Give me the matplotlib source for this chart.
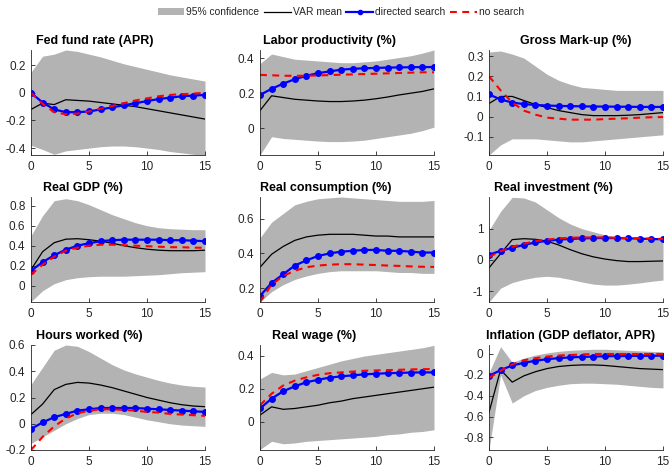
import numpy as np
import matplotlib
matplotlib.use("Agg")
import matplotlib.pyplot as plt
from matplotlib.patches import Patch
from matplotlib.lines import Line2D

plt.rcParams['font.family'] = ['Liberation Sans', 'DejaVu Sans']

horizon = list(range(16))

titles = ["Fed fund rate (APR)", "Labor productivity (%)", "Gross Mark-up (%)",
          "Real GDP (%)", "Real consumption (%)", "Real investment (%)",
          "Hours worked (%)", "Real wage (%)", "Inflation (GDP deflator, APR)"]

# 95% confidence band: upper / lower
fed_hi = [0.15, 0.265, 0.28, 0.31, 0.30, 0.28, 0.26, 0.235, 0.21, 0.19, 0.17, 0.15, 0.13, 0.115, 0.10, 0.085]
fed_lo = [-0.38, -0.41, -0.445, -0.42, -0.41, -0.40, -0.39, -0.385, -0.385, -0.39, -0.40, -0.41, -0.425, -0.435, -0.445, -0.45]
fed_var = [-0.12, -0.075, -0.085, -0.05, -0.055, -0.06, -0.07, -0.08, -0.09, -0.10, -0.115, -0.13, -0.145, -0.16, -0.175, -0.19]
fed_dir = [0.0, -0.07, -0.12, -0.14, -0.14, -0.135, -0.12, -0.105, -0.09, -0.075, -0.06, -0.045, -0.035, -0.025, -0.02, -0.015]
fed_nos = [0.0, -0.08, -0.14, -0.155, -0.15, -0.135, -0.115, -0.095, -0.075, -0.055, -0.04, -0.025, -0.015, -0.01, -0.005, 0.0]

lp_hi = [0.37, 0.425, 0.41, 0.395, 0.39, 0.385, 0.38, 0.375, 0.375, 0.38, 0.385, 0.395, 0.405, 0.415, 0.43, 0.448]
lp_lo = [-0.155, -0.05, -0.06, -0.065, -0.07, -0.075, -0.078, -0.078, -0.075, -0.07, -0.06, -0.05, -0.04, -0.03, -0.015, 0.005]
lp_var = [0.10, 0.185, 0.175, 0.165, 0.16, 0.155, 0.152, 0.152, 0.155, 0.16, 0.168, 0.178, 0.19, 0.20, 0.21, 0.225]
lp_dir = [0.19, 0.225, 0.255, 0.28, 0.30, 0.315, 0.325, 0.335, 0.34, 0.343, 0.345, 0.347, 0.348, 0.349, 0.35, 0.35]
lp_nos = [0.305, 0.303, 0.30, 0.30, 0.30, 0.302, 0.304, 0.306, 0.308, 0.31, 0.312, 0.314, 0.316, 0.318, 0.32, 0.32]

mu_hi = [0.32, 0.325, 0.31, 0.29, 0.25, 0.21, 0.18, 0.16, 0.145, 0.14, 0.135, 0.13, 0.13, 0.13, 0.13, 0.13]
mu_lo = [-0.19, -0.14, -0.11, -0.11, -0.11, -0.115, -0.12, -0.125, -0.125, -0.12, -0.115, -0.11, -0.105, -0.10, -0.095, -0.09]
mu_var = [0.065, 0.10, 0.10, 0.08, 0.06, 0.045, 0.03, 0.02, 0.01, 0.005, 0.005, 0.005, 0.007, 0.01, 0.015, 0.02]
mu_dir = [0.11, 0.085, 0.07, 0.062, 0.058, 0.055, 0.053, 0.052, 0.051, 0.05, 0.05, 0.049, 0.049, 0.048, 0.048, 0.048]
mu_nos = [0.20, 0.13, 0.07, 0.03, 0.01, -0.005, -0.01, -0.015, -0.015, -0.015, -0.012, -0.01, -0.008, -0.005, -0.003, -0.002]

gdp_hi = [0.50, 0.70, 0.85, 0.87, 0.85, 0.81, 0.76, 0.71, 0.67, 0.63, 0.60, 0.58, 0.57, 0.565, 0.56, 0.56]
gdp_lo = [-0.16, -0.05, 0.02, 0.06, 0.08, 0.09, 0.095, 0.095, 0.095, 0.10, 0.105, 0.11, 0.12, 0.13, 0.135, 0.14]
gdp_var = [0.16, 0.34, 0.43, 0.465, 0.47, 0.46, 0.445, 0.425, 0.40, 0.38, 0.365, 0.355, 0.35, 0.35, 0.35, 0.355]
gdp_dir = [0.15, 0.235, 0.305, 0.36, 0.40, 0.425, 0.445, 0.455, 0.46, 0.46, 0.46, 0.46, 0.455, 0.455, 0.45, 0.445]
gdp_nos = [0.11, 0.21, 0.29, 0.35, 0.38, 0.40, 0.41, 0.41, 0.405, 0.40, 0.395, 0.39, 0.385, 0.385, 0.38, 0.38]

con_hi = [0.49, 0.58, 0.63, 0.68, 0.70, 0.715, 0.72, 0.725, 0.72, 0.715, 0.71, 0.705, 0.70, 0.70, 0.70, 0.705]
con_lo = [0.12, 0.18, 0.22, 0.25, 0.27, 0.285, 0.295, 0.30, 0.30, 0.30, 0.30, 0.295, 0.29, 0.29, 0.285, 0.285]
con_var = [0.32, 0.395, 0.44, 0.475, 0.495, 0.505, 0.51, 0.51, 0.51, 0.505, 0.50, 0.50, 0.495, 0.495, 0.495, 0.495]
con_dir = [0.155, 0.23, 0.28, 0.33, 0.36, 0.385, 0.40, 0.41, 0.415, 0.42, 0.42, 0.415, 0.415, 0.41, 0.405, 0.405]
con_nos = [0.12, 0.22, 0.27, 0.30, 0.32, 0.33, 0.335, 0.338, 0.338, 0.335, 0.333, 0.33, 0.328, 0.325, 0.323, 0.322]

inv_hi = [0.95, 1.55, 2.0, 1.98, 1.85, 1.60, 1.35, 1.15, 1.0, 0.9, 0.8, 0.73, 0.68, 0.65, 0.65, 0.65]
inv_lo = [-1.34, -0.9, -0.72, -0.62, -0.55, -0.52, -0.55, -0.62, -0.70, -0.77, -0.80, -0.80, -0.77, -0.73, -0.68, -0.64]
inv_var = [-0.25, 0.20, 0.65, 0.68, 0.66, 0.60, 0.48, 0.33, 0.20, 0.10, 0.03, -0.02, -0.05, -0.05, -0.04, -0.03]
inv_dir = [0.17, 0.29, 0.39, 0.48, 0.56, 0.61, 0.65, 0.67, 0.69, 0.70, 0.70, 0.70, 0.69, 0.68, 0.67, 0.66]
inv_nos = [0.10, 0.28, 0.42, 0.52, 0.60, 0.65, 0.69, 0.71, 0.72, 0.72, 0.72, 0.71, 0.70, 0.69, 0.68, 0.67]

hrs_hi = [0.30, 0.43, 0.56, 0.60, 0.59, 0.55, 0.50, 0.45, 0.41, 0.38, 0.355, 0.33, 0.31, 0.295, 0.285, 0.28]
hrs_lo = [-0.15, -0.10, -0.05, 0.0, 0.04, 0.07, 0.08, 0.08, 0.07, 0.05, 0.03, 0.015, 0.0, -0.01, -0.015, -0.02]
hrs_var = [0.07, 0.15, 0.26, 0.30, 0.315, 0.31, 0.295, 0.275, 0.25, 0.225, 0.20, 0.18, 0.16, 0.145, 0.135, 0.13]
hrs_dir = [-0.04, 0.01, 0.05, 0.075, 0.10, 0.11, 0.12, 0.12, 0.12, 0.12, 0.115, 0.11, 0.105, 0.10, 0.095, 0.09]
hrs_nos = [-0.20, -0.10, -0.02, 0.04, 0.08, 0.10, 0.11, 0.11, 0.105, 0.10, 0.09, 0.085, 0.075, 0.07, 0.065, 0.06]

wag_hi = [0.26, 0.30, 0.285, 0.29, 0.31, 0.33, 0.35, 0.37, 0.385, 0.40, 0.41, 0.42, 0.43, 0.44, 0.45, 0.465]
wag_lo = [-0.17, -0.12, -0.135, -0.13, -0.12, -0.115, -0.11, -0.105, -0.10, -0.095, -0.09, -0.08, -0.075, -0.065, -0.06, -0.05]
wag_var = [0.04, 0.09, 0.075, 0.08, 0.09, 0.10, 0.115, 0.125, 0.14, 0.15, 0.16, 0.17, 0.18, 0.19, 0.20, 0.21]
wag_dir = [0.08, 0.14, 0.185, 0.215, 0.24, 0.255, 0.268, 0.276, 0.282, 0.288, 0.292, 0.295, 0.297, 0.299, 0.30, 0.30]
wag_nos = [0.10, 0.17, 0.22, 0.25, 0.27, 0.285, 0.295, 0.30, 0.305, 0.31, 0.312, 0.314, 0.316, 0.318, 0.32, 0.32]

inf_hi = [-0.18, 0.07, -0.08, -0.04, -0.01, 0.01, 0.025, 0.035, 0.04, 0.045, 0.045, 0.04, 0.035, 0.03, 0.025, 0.02]
inf_lo = [-0.92, -0.20, -0.47, -0.40, -0.35, -0.32, -0.30, -0.285, -0.28, -0.28, -0.285, -0.29, -0.30, -0.31, -0.32, -0.325]
inf_var = [-0.56, -0.15, -0.27, -0.21, -0.17, -0.14, -0.12, -0.11, -0.105, -0.105, -0.11, -0.12, -0.13, -0.14, -0.145, -0.15]
inf_dir = [-0.21, -0.155, -0.11, -0.085, -0.065, -0.05, -0.04, -0.033, -0.028, -0.025, -0.022, -0.02, -0.019, -0.018, -0.017, -0.016]
inf_nos = [-0.23, -0.16, -0.10, -0.06, -0.04, -0.025, -0.015, -0.01, -0.005, 0.0, 0.0, 0.0, 0.0, 0.0, 0.0, 0.0]

panels = [
    (fed_hi, fed_lo, fed_var, fed_dir, fed_nos),
    (lp_hi, lp_lo, lp_var, lp_dir, lp_nos),
    (mu_hi, mu_lo, mu_var, mu_dir, mu_nos),
    (gdp_hi, gdp_lo, gdp_var, gdp_dir, gdp_nos),
    (con_hi, con_lo, con_var, con_dir, con_nos),
    (inv_hi, inv_lo, inv_var, inv_dir, inv_nos),
    (hrs_hi, hrs_lo, hrs_var, hrs_dir, hrs_nos),
    (wag_hi, wag_lo, wag_var, wag_dir, wag_nos),
    (inf_hi, inf_lo, inf_var, inf_dir, inf_nos),
]

yticks = [
    [-0.4, -0.2, 0, 0.2], [0, 0.2, 0.4], [-0.1, 0, 0.1, 0.2, 0.3],
    [0, 0.2, 0.4, 0.6, 0.8], [0.2, 0.4, 0.6], [-1, 0, 1],
    [-0.2, 0, 0.2, 0.4, 0.6], [0, 0.2, 0.4], [-0.8, -0.6, -0.4, -0.2, 0],
]
ylims = [(-0.45, 0.31), (-0.155, 0.448), (-0.19, 0.33),
         (-0.163, 0.887), (0.12, 0.725), (-1.34, 2.01),
         (-0.2, 0.6), (-0.173, 0.467), (-0.92, 0.086)]
title_x = [0.368, 0.40, 0.5, 0.30, 0.378, 0.37, 0.337, 0.313, 0.47]

W, H = 672, 467
fig = plt.figure(figsize=(W / 100, H / 100), dpi=100)

col_left = [31, 260, 489]
ax_w = 174
row_top = [50, 197, 345]
ax_h = 105

band_c = '#b3b3b3'
axc = '#262626'
dash = (0, (3.3, 2.6))

for i, (hi, lo, var, dr, ns) in enumerate(panels):
    r, c = divmod(i, 3)
    ax = fig.add_axes([col_left[c] / W, 1 - (row_top[r] + ax_h) / H, ax_w / W, ax_h / H])
    ax.fill_between(horizon, lo, hi, color=band_c, linewidth=0)
    ax.plot(horizon, var, color='black', lw=0.9)
    ax.plot(horizon, dr, color='#0000ff', lw=1.6, marker='o', ms=4,
            markerfacecolor='#0000ff', markeredgecolor='#0000ff')
    ax.plot(horizon, ns, color='#ff0000', lw=1.5, ls=dash)
    ax.set_xlim(0, 15)
    ax.set_ylim(*ylims[i])
    ax.set_xticks([0, 5, 10, 15])
    ax.set_yticks(yticks[i])
    ax.set_yticklabels([('%g' % t) for t in yticks[i]])
    for s in ['top', 'right']:
        ax.spines[s].set_visible(False)
    for s in ['left', 'bottom']:
        ax.spines[s].set_color(axc)
        ax.spines[s].set_linewidth(0.6)
    ax.tick_params(direction='in', length=3, width=0.6, color=axc,
                   labelsize=8.5, labelcolor=axc, pad=4)
    ax.text(title_x[i], 1.03, titles[i], transform=ax.transAxes, ha='center',
            va='bottom', fontsize=9, fontweight='bold', color='black')

handles = [Patch(facecolor=band_c, edgecolor='none'),
           Line2D([], [], color='black', lw=0.9),
           Line2D([], [], color='#0000ff', lw=1.6, marker='o', ms=3),
           Line2D([], [], color='#ff0000', lw=1.5, ls=dash)]
labels = ['95% confidence', 'VAR mean', 'directed search', 'no search']
fig.legend(handles, labels, loc='center', bbox_to_anchor=(0.507, 0.974), ncol=4,
           frameon=False, fontsize=7.4, handlelength=2.6, handletextpad=0.2,
           columnspacing=0.45, borderpad=0.2, labelcolor=axc)

fig.savefig('out.png', dpi=100)
